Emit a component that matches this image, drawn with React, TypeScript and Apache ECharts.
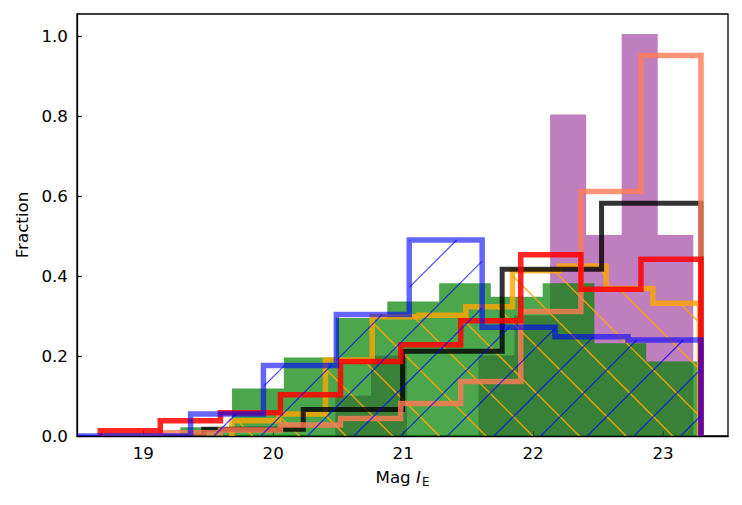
import React, { useEffect, useRef } from 'react';
import * as echarts from 'echarts';

const xTicks = [19, 20, 21, 22, 23];
const yTicks = [0, 0.2, 0.4, 0.6, 0.8, 1.0];

const purpleEdges = [20.478, 20.753, 21.029, 21.304, 21.58, 21.855, 22.131, 22.408, 22.682, 22.959, 23.233];
const purpleFrac = [0.1005, 0.201, 0, 0, 0.201, 0.3015, 0.8035, 0.5025, 1.005, 0.5025];

const greenEdges = [19.285, 19.683, 20.082, 20.48, 20.878, 21.277, 21.675, 22.074, 22.472, 22.871, 23.269];
const greenFrac = [0.022, 0.119, 0.196, 0.295, 0.336, 0.382, 0.348, 0.382, 0.232, 0.186];

const orangeEdges = [19.682, 20.042, 20.402, 20.762, 21.122, 21.482, 21.842, 22.202, 22.562, 22.922, 23.282];
const orangeFrac = [0.038, 0.055, 0.19, 0.298, 0.302, 0.323, 0.413, 0.425, 0.369, 0.332];

const blackEdges = [18.7, 19.465, 20.231, 20.996, 21.762, 22.527, 23.292];
const blackFrac = [0, 0.017, 0.066, 0.212, 0.417, 0.582];

const redEdges = [18.669, 19.131, 19.594, 20.056, 20.518, 20.981, 21.443, 21.905, 22.368, 22.83, 23.292];
const redFrac = [0.013, 0.038, 0.058, 0.103, 0.186, 0.228, 0.288, 0.453, 0.367, 0.442];
const salmonFrac = [0, 0.008, 0.015, 0.0275, 0.044, 0.081, 0.136, 0.311, 0.611, 0.951];

const blueEdges = [18.242, 18.803, 19.364, 19.925, 20.486, 21.047, 21.608, 22.169, 22.731, 23.292];
const blueFrac = [0, 0, 0.055, 0.176, 0.304, 0.49, 0.272, 0.248, 0.24];

const HATCH_SPACING = 46.67;

function makeFilled(edges: number[], vals: number[], color: string, z: number) {
  return {
    type: 'custom',
    z,
    clip: true,
    silent: true,
    data: [[edges[0], 0]],
    renderItem: (params: any, api: any) => {
      const pts: number[][] = [];
      pts.push(api.coord([edges[0], 0]));
      for (let i = 0; i < vals.length; i++) {
        pts.push(api.coord([edges[i], vals[i]]));
        pts.push(api.coord([edges[i + 1], vals[i]]));
      }
      pts.push(api.coord([edges[edges.length - 1], 0]));
      return { type: 'polygon', shape: { points: pts }, style: { fill: color, stroke: null } };
    },
  };
}

type Hatch = { dir: 'ne' | 'nw'; phase: number; color: string; width: number };

function makeStep(edges: number[], vals: number[], color: string, opacity: number, width: number, z: number, hatch?: Hatch) {
  return {
    type: 'custom',
    z,
    clip: true,
    silent: true,
    data: [[edges[0], 0]],
    renderItem: (params: any, api: any) => {
      const cs = params.coordSys;
      const left = cs.x;
      const right = cs.x + cs.width;
      const cx = (x: number) => Math.max(left - 4, Math.min(right + 4, x));
      const pts: number[][] = [];
      const b0 = api.coord([edges[0], 0]);
      pts.push([cx(b0[0]), b0[1]]);
      for (let i = 0; i < vals.length; i++) {
        const a = api.coord([edges[i], vals[i]]);
        const b = api.coord([edges[i + 1], vals[i]]);
        pts.push([cx(a[0]), a[1]], [cx(b[0]), b[1]]);
      }
      const e = api.coord([edges[edges.length - 1], 0]);
      pts.push([cx(e[0]), e[1]]);
      const children: any[] = [];
      if (hatch) {
        const s = HATCH_SPACING;
        for (let i = 0; i < vals.length; i++) {
          if (vals[i] <= 0) continue;
          const pa = api.coord([edges[i], vals[i]]);
          const pb = api.coord([edges[i + 1], 0]);
          const xa = Math.max(left, pa[0]);
          const xb = Math.min(right, pb[0]);
          const ya = pa[1];
          const yb = pb[1];
          if (xb <= xa) continue;
          if (hatch.dir === 'ne') {
            const kmin = Math.ceil((xa + ya - hatch.phase) / s);
            const kmax = Math.floor((xb + yb - hatch.phase) / s);
            for (let k = kmin; k <= kmax; k++) {
              const c = hatch.phase + k * s;
              const x1 = Math.max(xa, c - yb);
              const x2 = Math.min(xb, c - ya);
              if (x2 > x1) {
                children.push({
                  type: 'line',
                  shape: { x1, y1: c - x1, x2, y2: c - x2 },
                  style: { stroke: hatch.color, lineWidth: hatch.width },
                });
              }
            }
          } else {
            const kmin = Math.ceil((ya - xb - hatch.phase) / s);
            const kmax = Math.floor((yb - xa - hatch.phase) / s);
            for (let k = kmin; k <= kmax; k++) {
              const c = hatch.phase + k * s;
              const x1 = Math.max(xa, ya - c);
              const x2 = Math.min(xb, yb - c);
              if (x2 > x1) {
                children.push({
                  type: 'line',
                  shape: { x1, y1: x1 + c, x2, y2: x2 + c },
                  style: { stroke: hatch.color, lineWidth: hatch.width },
                });
              }
            }
          }
        }
      }
      children.push({
        type: 'polyline',
        shape: { points: pts },
        style: { stroke: color, lineWidth: width, opacity, fill: null, lineJoin: 'miter' },
      });
      return { type: 'group', children };
    },
  };
}

export default function App() {
  const ref = useRef<HTMLDivElement>(null);
  useEffect(() => {
    if (!ref.current) return;
    const chart = echarts.init(ref.current, undefined, { renderer: 'svg' });
    const font = 'DejaVu Sans';
    const fs = 16.7;
    chart.setOption({
      animation: false,
      backgroundColor: '#fff',
      grid: { left: 77, right: 14, top: 14, bottom: 69, show: true, borderColor: '#000', borderWidth: 1.3, backgroundColor: 'transparent' },
      xAxis: {
        type: 'value',
        min: 18.49,
        max: 23.5,
        axisLine: { show: true, onZero: false, lineStyle: { color: '#000', width: 1.3 } },
        axisTick: { show: true, inside: true, length: 5, lineStyle: { color: '#000', width: 1.2 }, customValues: xTicks },
        axisLabel: { customValues: xTicks, color: '#000', fontSize: fs, fontFamily: font, margin: 8, formatter: (v: number) => String(v) },
        splitLine: { show: false },
        name: '{a|Mag }{i|I}{s|E}',
        nameLocation: 'middle',
        nameGap: 31,
        nameTextStyle: {
          color: '#000',
          fontFamily: font,
          fontSize: fs,
          rich: {
            a: { fontSize: fs, fontFamily: font, color: '#000', lineHeight: 20 },
            i: { fontSize: fs, fontFamily: font, fontStyle: 'italic', color: '#000', lineHeight: 20 },
            s: { fontSize: 12, fontFamily: font, color: '#000', lineHeight: 20, padding: [9, 0, 0, 1] },
          },
        },
      },
      yAxis: {
        type: 'value',
        min: 0,
        max: 1.055,
        axisLine: { show: true, lineStyle: { color: '#000', width: 1.3 } },
        axisTick: { show: true, inside: true, length: 5, lineStyle: { color: '#000', width: 1.2 }, customValues: yTicks },
        axisLabel: { customValues: yTicks, color: '#000', fontSize: fs, fontFamily: font, margin: 9, formatter: (v: number) => v.toFixed(1) },
        splitLine: { show: false },
        name: 'Fraction',
        nameLocation: 'middle',
        nameGap: 47,
        nameTextStyle: { color: '#000', fontFamily: font, fontSize: fs },
      },
      series: [
        makeFilled(purpleEdges, purpleFrac, 'rgba(128,0,128,0.5)', 1),
        makeFilled(greenEdges, greenFrac, 'rgba(0,128,0,0.7)', 2),
        makeStep(orangeEdges, orangeFrac, '#ffa500', 0.8, 5.5, 3, { dir: 'nw', phase: -3.4, color: 'rgba(255,165,0,0.85)', width: 1.5 }),
        makeStep(blackEdges, blackFrac, '#000000', 0.8, 5, 4),
        makeStep(redEdges, salmonFrac, '#ff7a55', 0.8, 5.5, 5),
        makeStep(redEdges, redFrac, '#ff0000', 0.85, 5.5, 6),
        makeStep(blueEdges, blueFrac, '#0000ff', 0.6, 5.5, 7, { dir: 'ne', phase: 43.3, color: 'rgba(0,0,255,0.7)', width: 1.2 }),
      ],
    });
    return () => chart.dispose();
  }, []);
  return <div ref={ref} style={{ position: 'fixed', left: 0, top: 0, width: 742, height: 505 }} />;
}
